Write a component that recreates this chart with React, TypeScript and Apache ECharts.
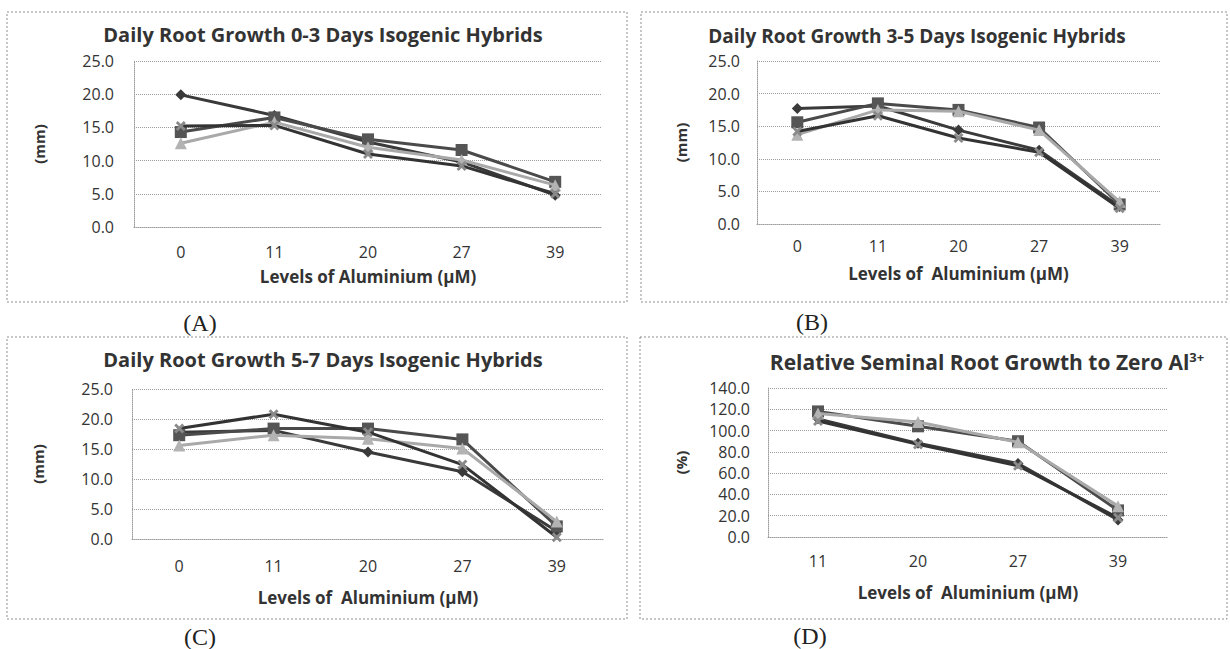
import React, { useEffect, useRef } from "react";
import * as echarts from "echarts";

// ---- data ----
const levelsABC = ["0", "11", "20", "27", "39"];
const levelsD = ["11", "20", "27", "39"];

// Panel A: daily root growth 0-3 days (mm)
const aDiamond = [19.9, 16.8, 12.8, 9.8, 4.8];
const aSquare = [14.3, 16.5, 13.2, 11.6, 6.8];
const aTriangle = [12.6, 15.8, 12.0, 10.1, 6.3];
const aCross = [15.2, 15.3, 11.0, 9.2, 5.0];

// Panel B: daily root growth 3-5 days (mm)
const bDiamond = [17.7, 18.1, 14.4, 11.3, 2.7];
const bSquare = [15.6, 18.5, 17.5, 14.8, 3.0];
const bTriangle = [13.7, 17.5, 17.3, 14.4, 3.4];
const bCross = [14.2, 16.6, 13.2, 11.0, 2.4];

// Panel C: daily root growth 5-7 days (mm)
const cDiamond = [17.8, 18.1, 14.5, 11.2, 1.3];
const cSquare = [17.3, 18.4, 18.4, 16.6, 2.1];
const cTriangle = [15.6, 17.3, 16.7, 15.1, 2.9];
const cCross = [18.4, 20.8, 17.8, 12.4, 0.3];

// Panel D: relative seminal root growth (%)
const dDiamond = [111, 88, 69, 16];
const dSquare = [118, 104, 90, 25];
const dTriangle = [116, 108, 89, 29];
const dCross = [109, 87, 67, 18];

const titles = [
  "Daily Root Growth 0-3 Days Isogenic Hybrids",
  "Daily Root Growth 3-5 Days Isogenic Hybrids",
  "Daily Root Growth 5-7 Days Isogenic Hybrids",
  "Relative Seminal Root Growth to Zero Al{sup|3+}",
];
const xNames = [
  "Levels of Aluminium (\u03bcM)",
  "Levels of  Aluminium (\u03bcM)",
  "Levels of  Aluminium (\u03bcM)",
  "Levels of  Aluminium (\u03bcM)",
];
const yNames = ["(mm)", "(mm)", "(mm)", "(%)"];
const panelLabels = ["(A)", "(B)", "(C)", "(D)"];

const FONT = "'Open Sans', sans-serif";
const CROSS = "path://M2,0L5,3L8,0L10,2L7,5L10,8L8,10L5,7L2,10L0,8L3,5L0,2Z";

const seriesStyles = [
  { symbol: "diamond", size: 11, line: "#3a3a3a", mark: "#3a3a3a" },
  { symbol: "rect", size: 12, line: "#4a4a4a", mark: "#555555" },
  { symbol: "triangle", size: 12, line: "#a9a9a9", mark: "#b3b3b3" },
  { symbol: CROSS, size: 10, line: "#333333", mark: "#8a8a8a" },
];

export default function App() {
  const ref = useRef<HTMLDivElement>(null);

  useEffect(() => {
    if (!ref.current) return;
    const chart = echarts.init(ref.current, undefined, { renderer: "svg" });

    const panels = [
      { cats: levelsABC, data: [aDiamond, aSquare, aTriangle, aCross], max: 25, interval: 5 },
      { cats: levelsABC, data: [bDiamond, bSquare, bTriangle, bCross], max: 25, interval: 5 },
      { cats: levelsABC, data: [cDiamond, cSquare, cTriangle, cCross], max: 25, interval: 5 },
      { cats: levelsD, data: [dDiamond, dSquare, dTriangle, dCross], max: 140, interval: 20 },
    ];

    const grids = [
      { left: 134, top: 61, width: 468, height: 166 },
      { left: 757, top: 61, width: 403, height: 163 },
      { left: 132, top: 389, width: 472, height: 150 },
      { left: 768, top: 388, width: 400, height: 149 },
    ];
    const xLabelMargin = [17, 14, 19, 16];
    const xNameGap = [41, 41, 50, 47];
    const yLabelMargin = [20, 17, 19, 18];
    const yNameGap = [88, 69, 87, 80];
    const titleSize = [20, 19, 20, 21];
    const titlePos = [
      { left: 318, top: 19 },
      { left: 912, top: 21 },
      { left: 318, top: 344 },
      { left: 982, top: 345 },
    ];
    const labelPos = [
      [200, 323],
      [812, 322],
      [200, 637],
      [810, 636],
    ];
    const frames = [
      [7, 12, 620, 290],
      [641, 12, 586, 290],
      [7, 337, 620, 282],
      [640, 337, 587, 282],
    ];

    const dotted = { color: "#9c9c9c", type: "dotted" as const, width: 1 };

    const option: any = {
      animation: false,
      backgroundColor: "#ffffff",
      title: titles.map((t, i) => ({
        text: t,
        left: titlePos[i].left,
        top: titlePos[i].top,
        textAlign: "center",
        textStyle: {
          fontFamily: FONT,
          fontSize: titleSize[i],
          fontWeight: "bold",
          color: "#333",
          rich: {
            sup: {
              fontFamily: FONT,
              fontSize: 13,
              fontWeight: "bold",
              color: "#333",
              verticalAlign: "top",
              padding: [0, 0, 10, 0],
            },
          },
        },
      })),
      grid: grids,
      xAxis: panels.map((p, i) => ({
        type: "category",
        gridIndex: i,
        data: p.cats,
        boundaryGap: true,
        axisTick: { show: false },
        axisLine: { show: true, lineStyle: dotted },
        axisLabel: { fontFamily: FONT, fontSize: 16, color: "#333", margin: xLabelMargin[i] },
        name: xNames[i],
        nameLocation: "middle",
        nameGap: xNameGap[i],
        nameTextStyle: { fontFamily: FONT, fontSize: 17, fontWeight: "bold", color: "#333" },
      })),
      yAxis: panels.map((p, i) => ({
        type: "value",
        gridIndex: i,
        min: 0,
        max: p.max,
        interval: p.interval,
        axisTick: { show: false },
        axisLine: { show: true, lineStyle: dotted },
        splitLine: { show: true, lineStyle: dotted },
        axisLabel: {
          fontFamily: FONT,
          fontSize: 16,
          color: "#333",
          margin: yLabelMargin[i],
          formatter: (v: number) => v.toFixed(1),
        },
        name: yNames[i],
        nameLocation: "middle",
        nameRotate: 90,
        nameGap: yNameGap[i],
        nameTextStyle: { fontFamily: FONT, fontSize: 15, fontWeight: "bold", color: "#333" },
      })),
      series: panels.flatMap((p, i) =>
        p.data.map((d, k) => ({
          type: "line",
          xAxisIndex: i,
          yAxisIndex: i,
          data: d,
          symbol: seriesStyles[k].symbol,
          symbolSize: seriesStyles[k].size,
          showSymbol: true,
          lineStyle: { color: seriesStyles[k].line, width: 3 },
          itemStyle: { color: seriesStyles[k].mark },
          z: 2 + k,
        }))
      ),
      graphic: [
        ...frames.map((f) => ({
          type: "rect",
          shape: { x: f[0], y: f[1], width: f[2], height: f[3] },
          style: { fill: "none", stroke: "#8f8f8f", lineWidth: 1, lineDash: [2, 2] },
          silent: true,
        })),
        ...panelLabels.map((t, i) => ({
          type: "text",
          x: labelPos[i][0],
          y: labelPos[i][1],
          style: {
            text: t,
            font: "24px 'Liberation Serif', serif",
            fill: "#222",
            textAlign: "center",
            textVerticalAlign: "middle",
          },
          silent: true,
        })),
      ],
    };

    chart.setOption(option);
    return () => chart.dispose();
  }, []);

  return (
    <div
      ref={ref}
      style={{ position: "absolute", left: 0, top: 0, width: 1230, height: 649 }}
    />
  );
}
